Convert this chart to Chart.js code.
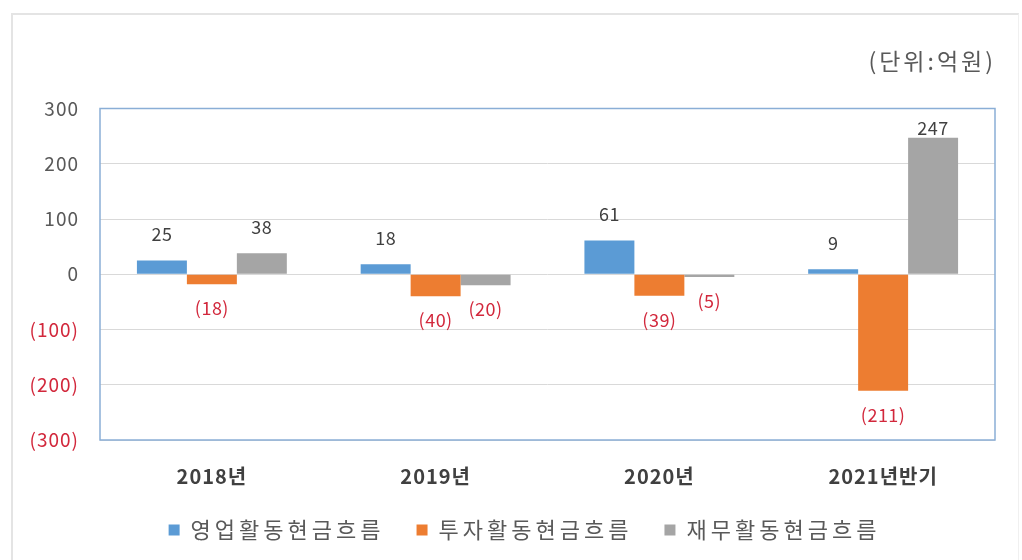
<!DOCTYPE html>
<html><head><meta charset="utf-8">
<script src="https://cdn.jsdelivr.net/npm/chart.js@4"></script>
<style>
html,body{margin:0;padding:0;background:#fff;}
#wrap{position:relative;width:1022px;height:560px;overflow:hidden}
#frame{position:absolute;left:11px;top:13px;width:1008px;height:560px;border-left:2px solid #e4e4e4;border-top:2px solid #e4e4e4;border-right:1px solid #f0f0f0;box-sizing:border-box}
canvas{position:absolute;left:0;top:0}
</style></head>
<body><div id="wrap"><div id="frame"></div><canvas id="c" width="1022" height="560"></canvas></div>
<script>
const categories = ['2018년', '2019년', '2020년', '2021년반기'];
const operatingCF = [25, 18, 61, 9];
const investingCF = [-18, -40, -39, -211];
const financingCF = [38, -20, -5, 247];
const seriesNames = ['영업활동현금흐름', '투자활동현금흐름', '재무활동현금흐름'];
const seriesColors = ['#5b9bd5', '#ed7d31', '#a5a5a5'];
const yMin = -300, yMax = 300, yStep = 100;
const unitLabel = '(단위:억원)';

const FONT = '"Noto Sans CJK KR", "Noto Sans", sans-serif';
const RED = '#d2283c';
const fmt = v => v < 0 ? '(' + Math.abs(v) + ')' : String(v);
const setSpacing = (ctx, s) => { try { ctx.letterSpacing = s; } catch (e) {} };

// letter spacing: legend text is drawn before datasets, axis tick labels after
const spacing = {
  id: 'spacing',
  beforeLayout(chart) { setSpacing(chart.ctx, '4px'); },
  beforeDraw(chart) { setSpacing(chart.ctx, '4px'); },
  beforeDatasetsDraw(chart) { setSpacing(chart.ctx, '1px'); }
};

const valueLabels = {
  id: 'valueLabels',
  afterDatasetsDraw(chart) {
    const ctx = chart.ctx, area = chart.chartArea;
    ctx.save();
    setSpacing(ctx, '0.5px');
    ctx.font = '18px ' + FONT;
    ctx.textAlign = 'center';
    ctx.textBaseline = 'middle';
    chart.data.datasets.forEach((ds, i) => {
      chart.getDatasetMeta(i).data.forEach((el, j) => {
        const v = ds.data[j];
        let y;
        if (v >= 0) {
          y = Math.max(el.y - 26, area.top + 20);
          ctx.fillStyle = '#404040';
        } else {
          y = el.y + 24;
          ctx.fillStyle = RED;
        }
        ctx.fillText(fmt(v), el.x, y);
      });
    });
    ctx.restore();
  }
};

const plotFrame = {
  id: 'plotFrame',
  afterDraw(chart) {
    const ctx = chart.ctx, a = chart.chartArea;
    ctx.save();
    ctx.strokeStyle = '#8aaed6';
    ctx.lineWidth = 1.5;
    ctx.strokeRect(a.left, a.top, a.right - a.left, a.bottom - a.top);
    ctx.font = '23px ' + FONT;
    setSpacing(ctx, '3px');
    ctx.fillStyle = '#595959';
    ctx.textAlign = 'right';
    ctx.textBaseline = 'middle';
    ctx.fillText(unitLabel, a.right + 1, 61);
    ctx.restore();
  }
};

new Chart(document.getElementById('c'), {
  type: 'bar',
  data: {
    labels: categories,
    datasets: [
      { label: seriesNames[0], data: operatingCF, backgroundColor: seriesColors[0] },
      { label: seriesNames[1], data: investingCF, backgroundColor: seriesColors[1] },
      { label: seriesNames[2], data: financingCF, backgroundColor: seriesColors[2] }
    ]
  },
  options: {
    responsive: false,
    animation: false,
    devicePixelRatio: 1,
    datasets: { bar: { categoryPercentage: 0.67, barPercentage: 1 } },
    layout: { padding: { left: 27, right: 0, top: 108.5, bottom: 9 } },
    scales: {
      x: {
        grid: { display: false },
        border: { display: false },
        ticks: { font: { family: FONT, size: 20, weight: 'bold' }, color: '#404040', padding: 16, z: 1 },
        afterFit: s => { s.height = 47; }
      },
      y: {
        min: yMin, max: yMax,
        ticks: {
          stepSize: yStep,
          callback: v => fmt(v),
          color: c => c.tick.value < 0 ? RED : '#595959',
          font: { family: FONT, size: 19 },
          padding: 21,
          z: 1
        },
        grid: { color: '#d9d9d9', drawTicks: false },
        border: { display: false },
        afterFit: s => { s.width = 73; }
      },
      yRight: {
        type: 'linear',
        position: 'right',
        display: true,
        ticks: { display: false },
        grid: { display: false, drawTicks: false },
        border: { display: false },
        afterFit: s => { s.width = 27; }
      }
    },
    plugins: {
      legend: {
        position: 'bottom',
        labels: { boxWidth: 11, boxHeight: 11, font: { family: FONT, size: 22 }, color: '#595959', padding: 32 }
      },
      tooltip: { enabled: false }
    }
  },
  plugins: [spacing, valueLabels, plotFrame]
});
</script>
</body></html>
